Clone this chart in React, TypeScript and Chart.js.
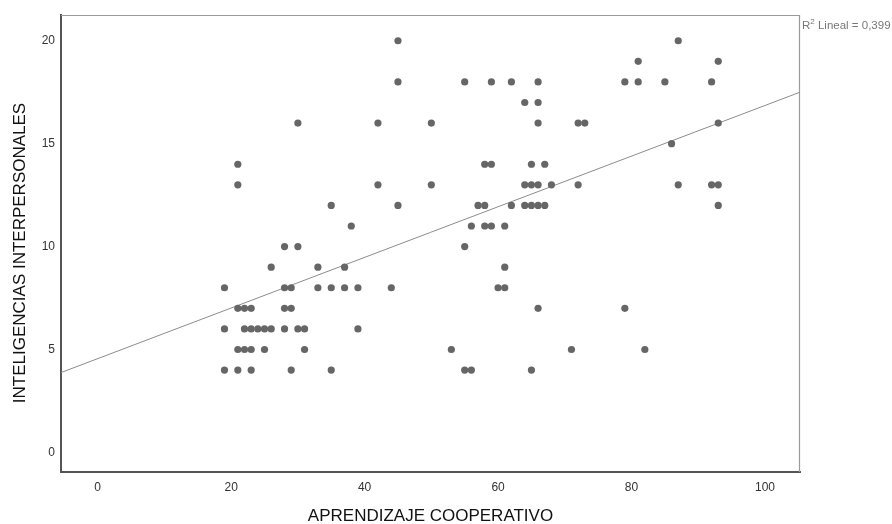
import React, { useEffect, useRef } from "react";
import { Chart, registerables } from "chart.js";

Chart.register(...registerables);

// Axis ticks
const xTicks = [0, 20, 40, 60, 80, 100];
const yTicks = [0, 5, 10, 15, 20];

// Axis titles / labels
const xTitle = "APRENDIZAJE COOPERATIVO";
const yTitle = "INTELIGENCIAS INTERPERSONALES";
const fitLabelMain = "R";
const fitLabelSup = "2";
const fitLabelRest = " Lineal = 0,399";

// Data points (x = APRENDIZAJE COOPERATIVO, y = INTELIGENCIAS INTERPERSONALES)
const cooperativo = [
  45, 87,
  81, 93,
  45, 55, 59, 62, 66, 79, 81, 85, 92,
  64, 66,
  30, 42, 50, 66, 72, 73, 93,
  86,
  21, 58, 59, 65, 67,
  21, 42, 50, 64, 65, 66, 68, 72, 87, 92, 93,
  35, 45, 57, 58, 62, 64, 65, 66, 67, 93,
  38, 56, 58, 59, 61,
  28, 30, 55,
  26, 33, 37, 61,
  19, 28, 29, 33, 35, 37, 39, 44, 60, 61,
  21, 22, 23, 28, 29, 66, 79,
  19, 22, 23, 24, 25, 26, 28, 30, 31, 39,
  21, 22, 23, 25, 31, 53, 71, 82,
  19, 21, 23, 29, 35, 55, 56, 65,
];
const interpersonales = [
  20, 20,
  19, 19,
  18, 18, 18, 18, 18, 18, 18, 18, 18,
  17, 17,
  16, 16, 16, 16, 16, 16, 16,
  15,
  14, 14, 14, 14, 14,
  13, 13, 13, 13, 13, 13, 13, 13, 13, 13, 13,
  12, 12, 12, 12, 12, 12, 12, 12, 12, 12,
  11, 11, 11, 11, 11,
  10, 10, 10,
  9, 9, 9, 9,
  8, 8, 8, 8, 8, 8, 8, 8, 8, 8,
  7, 7, 7, 7, 7, 7, 7,
  6, 6, 6, 6, 6, 6, 6, 6, 6, 6,
  5, 5, 5, 5, 5, 5, 5, 5,
  4, 4, 4, 4, 4, 4, 4, 4,
];

// Linear fit line at the two plot edges
const fitX = [-5.5, 105.25];
const fitY = [3.88, 17.5];

// Axis ranges
const xRange = [-5.5, 105.25];
const yRange = [-0.95, 21.25];

const FONT = "'Liberation Sans', Arial, sans-serif";

const decorPlugin = {
  id: "decor",
  beforeDatasetsDraw(chart: any) {
    const { ctx, chartArea: a } = chart;
    ctx.save();
    ctx.strokeStyle = "#9a9a9a";
    ctx.lineWidth = 1.2;
    ctx.beginPath();
    ctx.moveTo(a.left, a.top + 0.5);
    ctx.lineTo(a.right - 0.5, a.top + 0.5);
    ctx.lineTo(a.right - 0.5, a.bottom);
    ctx.stroke();
    ctx.restore();
  },
  afterDraw(chart: any) {
    const { ctx, chartArea: a } = chart;
    ctx.save();
    ctx.fillStyle = "#111";
    ctx.font = `17px ${FONT}`;
    ctx.textAlign = "center";
    ctx.textBaseline = "middle";
    ctx.fillText(xTitle, (a.left + a.right) / 2, 516);
    ctx.translate(20, 253);
    ctx.rotate(-Math.PI / 2);
    ctx.fillText(yTitle, 0, 0);
    ctx.restore();

    ctx.save();
    ctx.fillStyle = "#777";
    ctx.textBaseline = "alphabetic";
    ctx.textAlign = "left";
    let x = a.right + 2;
    const base = 29;
    ctx.font = `11.5px ${FONT}`;
    ctx.fillText(fitLabelMain, x, base);
    x += ctx.measureText(fitLabelMain).width;
    ctx.font = `8px ${FONT}`;
    ctx.fillText(fitLabelSup, x, base - 5);
    x += ctx.measureText(fitLabelSup).width;
    ctx.font = `11.5px ${FONT}`;
    ctx.fillText(fitLabelRest, x, base);
    ctx.restore();
  },
};

export default function App() {
  const ref = useRef<HTMLCanvasElement | null>(null);

  useEffect(() => {
    const canvas = ref.current;
    if (!canvas) return;
    const points = cooperativo.map((x, i) => ({ x, y: interpersonales[i] }));
    const fit = fitX.map((x, i) => ({ x, y: fitY[i] }));
    const chart = new Chart(canvas, {
      type: "scatter",
      data: {
        datasets: [
          {
            type: "scatter",
            data: points,
            backgroundColor: "#666666",
            borderColor: "#666666",
            borderWidth: 0,
            pointRadius: 3.6,
            order: 1,
          } as any,
          {
            type: "line",
            data: fit,
            borderColor: "#8c8c8c",
            borderWidth: 1,
            pointRadius: 0,
            fill: false,
            order: 2,
          } as any,
        ],
      },
      options: {
        animation: false,
        responsive: false,
        devicePixelRatio: 1,
        layout: { padding: { top: 15, right: 92, left: 0, bottom: 0 } },
        plugins: {
          legend: { display: false },
          tooltip: { enabled: false },
          title: { display: false },
        },
        scales: {
          x: {
            type: "linear",
            min: xRange[0],
            max: xRange[1],
            grid: { display: false, drawTicks: false },
            border: { display: true, color: "#555", width: 2 },
            ticks: {
              padding: 8,
              color: "#333",
              font: { family: FONT, size: 12 },
            },
            afterBuildTicks: (scale: any) => {
              scale.ticks = xTicks.map((v) => ({ value: v }));
            },
            afterFit: (scale: any) => {
              scale.height = 52;
            },
          },
          y: {
            type: "linear",
            min: yRange[0],
            max: yRange[1],
            grid: { display: false, drawTicks: false },
            border: { display: true, color: "#555", width: 2 },
            ticks: {
              padding: 6,
              color: "#333",
              font: { family: FONT, size: 12 },
            },
            afterBuildTicks: (scale: any) => {
              scale.ticks = yTicks.map((v) => ({ value: v }));
            },
            afterFit: (scale: any) => {
              scale.width = 61;
            },
          },
        },
      },
      plugins: [decorPlugin],
    });
    return () => chart.destroy();
  }, []);

  return (
    <div style={{ position: "absolute", left: 0, top: 0, width: 892, height: 524, background: "#fff" }}>
      <canvas ref={ref} width={892} height={524} />
    </div>
  );
}
